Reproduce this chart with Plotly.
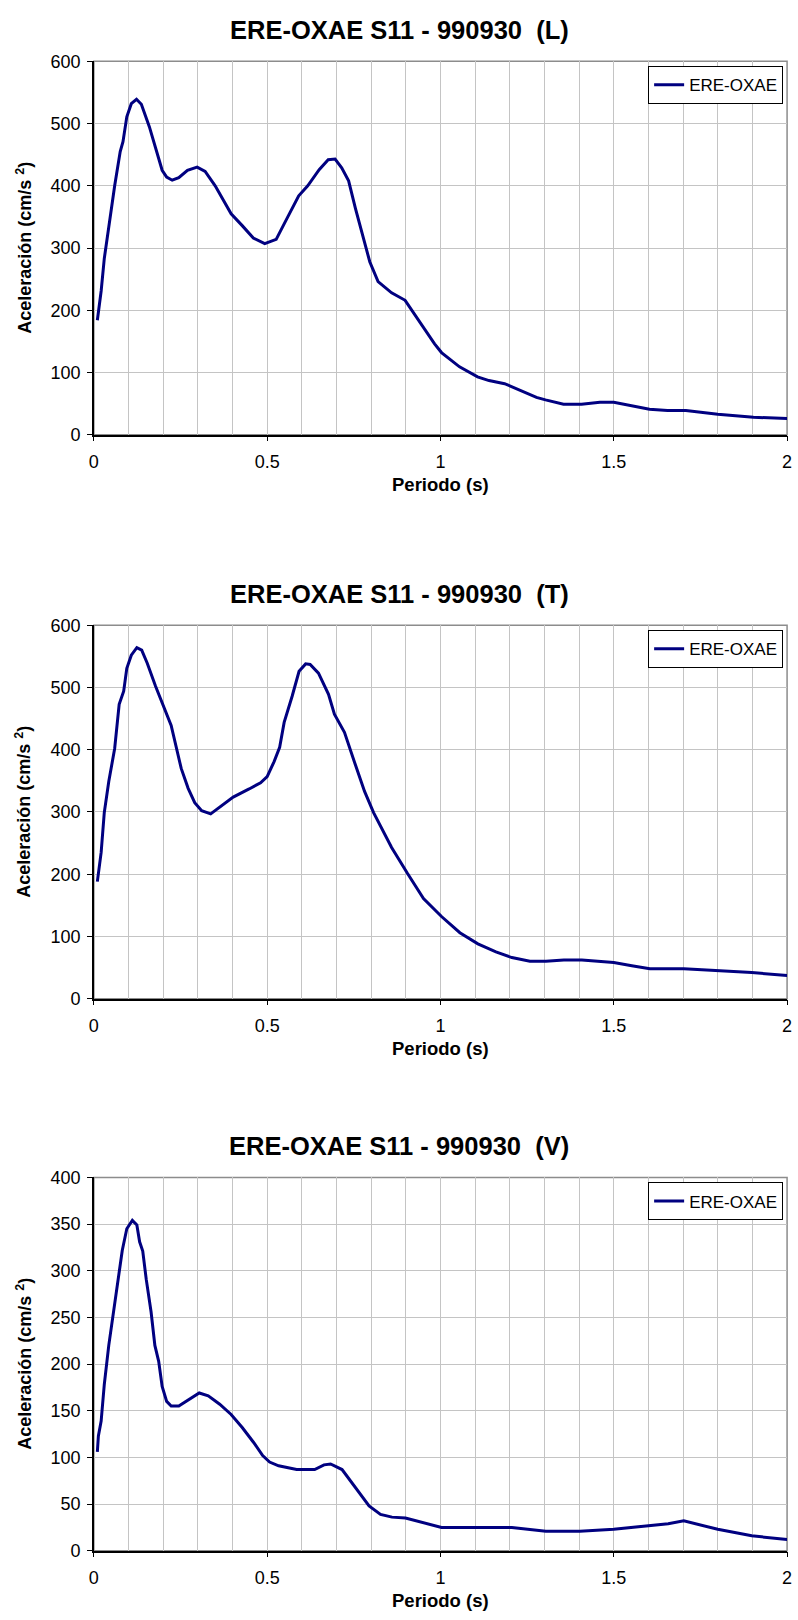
import plotly.graph_objects as go

# Espectros de respuesta - estacion ERE-OXAE, sismo 990930
# periodo (s) / aceleracion (cm/s2)

per_L = [0.01, 0.021, 0.03, 0.043, 0.06, 0.076, 0.084, 0.095, 0.108, 0.123, 0.137, 0.16, 0.18,
         0.197, 0.21, 0.226, 0.245, 0.27, 0.298, 0.321, 0.35, 0.396, 0.428, 0.46, 0.493, 0.526,
         0.552, 0.591, 0.617, 0.65, 0.676, 0.696, 0.715, 0.735, 0.755, 0.78, 0.796, 0.82, 0.859,
         0.898, 0.937, 0.983, 1.003, 1.055, 1.107, 1.14, 1.185, 1.224, 1.277, 1.303, 1.355,
         1.407, 1.46, 1.5, 1.538, 1.603, 1.655, 1.708, 1.8, 1.903, 2.0]
acc_L = [184, 231, 283, 336, 400, 455, 471, 511, 532, 539, 531, 495, 458,
         425, 414, 409, 413, 425, 430, 423, 400, 355, 336, 316, 307, 314,
         342, 384, 400, 426, 442, 443, 429, 408, 363, 310, 278, 246, 228,
         216, 183, 146, 132, 109, 93, 87, 82, 73, 60, 56, 49,
         49, 52, 52, 48, 41, 39, 39, 33, 28, 26]

per_T = [0.01, 0.021, 0.03, 0.043, 0.06, 0.073, 0.086, 0.095, 0.108, 0.124, 0.138, 0.154, 0.178,
         0.2, 0.223, 0.252, 0.272, 0.291, 0.311, 0.337, 0.363, 0.402, 0.448, 0.481, 0.5, 0.52,
         0.536, 0.549, 0.572, 0.592, 0.611, 0.624, 0.648, 0.677, 0.694, 0.723, 0.755, 0.781,
         0.807, 0.859, 0.905, 0.951, 1.003, 1.056, 1.108, 1.16, 1.206, 1.258, 1.304, 1.356,
         1.408, 1.5, 1.552, 1.604, 1.702, 1.8, 1.898, 2.0]
acc_T = [188, 235, 299, 349, 402, 473, 494, 531, 552, 564, 560, 539, 502,
         470, 439, 370, 338, 315, 302, 297, 308, 324, 337, 347, 357, 381,
         404, 444, 486, 526, 538, 537, 523, 489, 457, 428, 375, 333,
         299, 243, 201, 161, 132, 106, 88, 75, 66, 60, 60, 62,
         62, 58, 53, 48, 48, 45, 42, 37]

per_V = [0.01, 0.013, 0.021, 0.03, 0.043, 0.056, 0.065, 0.076, 0.082, 0.095, 0.111, 0.124, 0.132,
         0.141, 0.151, 0.165, 0.176, 0.187, 0.197, 0.21, 0.223, 0.245, 0.274, 0.304, 0.33,
         0.363, 0.396, 0.428, 0.461, 0.487, 0.507, 0.533, 0.585, 0.637, 0.664, 0.683, 0.716,
         0.755, 0.794, 0.827, 0.86, 0.899, 0.951, 1.003, 1.108, 1.206, 1.304, 1.402, 1.5,
         1.552, 1.604, 1.657, 1.702, 1.748, 1.8, 1.898, 2.0]
acc_V = [106, 123, 139, 178, 220, 256, 280, 310, 322, 345, 354, 349, 331,
         321, 291, 256, 220, 203, 176, 160, 155, 155, 162, 169, 166,
         157, 146, 132, 116, 102, 95, 91, 87, 87, 92, 93, 87,
         67, 48, 39, 36, 35, 30, 25, 25, 25, 21, 21, 23,
         25, 27.5, 29, 32, 28, 23, 16, 12]

titles = ["ERE-OXAE S11 - 990930  (L)", "ERE-OXAE S11 - 990930  (T)", "ERE-OXAE S11 - 990930  (V)"]
y_max = [600, 600, 400]
y_step = [100, 100, 50]
serie = "ERE-OXAE"

W, H = 798, 1620
FONT = "Liberation Sans, Arial, sans-serif"
# plot areas in pixels (left, right, top, bottom)
px_left, px_right = 90, 792
tops = [52, 623, 1182]
bottoms = [430, 1001, 1560]

fig = go.Figure()
annots = []
data = [(per_L, acc_L), (per_T, acc_T), (per_V, acc_V)]

for i in range(3):
    n = "" if i == 0 else str(i + 1)
    leg = "legend" + n
    fig.add_trace(go.Scatter(x=data[i][0], y=data[i][1], mode="lines", name=serie,
                             line=dict(color="#000080", width=3),
                             xaxis="x" + n, yaxis="y" + n, legend=leg))
    ydom = [1 - bottoms[i] / H, 1 - tops[i] / H]
    fig.update_layout({
        "xaxis" + n: dict(domain=[px_left / W, px_right / W], range=[0, 2], anchor="y" + n,
                          tickvals=[0, 0.5, 1, 1.5, 2], ticktext=["0", "0.5", "1", "1.5", "2"],
                          ticks="outside", ticklen=5, tickcolor="black", ticklabelstandoff=5,
                          showgrid=True, gridcolor="#c4c4c4", gridwidth=1,
                          minor=dict(dtick=0.1, showgrid=True, gridcolor="#c4c4c4", gridwidth=1),
                          showline=True, linecolor="black", linewidth=1.5, zeroline=False,
                          tickfont=dict(size=18, color="black", family=FONT)),
        "yaxis" + n: dict(domain=ydom, range=[0, y_max[i]], anchor="x" + n,
                          dtick=y_step[i], ticks="outside", ticklen=5, tickcolor="black",
                          ticklabelstandoff=3,
                          showgrid=True, gridcolor="#c4c4c4", gridwidth=1,
                          showline=True, linecolor="black", linewidth=1.5, zeroline=False,
                          tickfont=dict(size=18, color="black", family=FONT)),
        leg: dict(x=788 / W, xanchor="right", y=1 - (tops[i] + 5) / H, yanchor="top",
                  bordercolor="black", borderwidth=1, bgcolor="white",
                  font=dict(size=17, color="black", family=FONT)),
    })
    # gray frame top/right
    fig.add_shape(type="rect", xref="x" + n + " domain", yref="y" + n + " domain",
                  x0=0, x1=1, y0=0, y1=1, line=dict(color="#8c8c8c", width=1.5), layer="below")
    annots.append(dict(text="<b>" + titles[i] + "</b>", x=0.5, y=1 - (tops[i] - 32) / H,
                       xref="paper", yref="paper", showarrow=False,
                       xanchor="center", yanchor="middle",
                       font=dict(size=25.5, color="black", family=FONT)))
    annots.append(dict(text="<b>Periodo (s)</b>", x=(px_left + px_right) / 2 / W,
                       y=1 - (bottoms[i] + 50) / H, xref="paper", yref="paper", showarrow=False,
                       xanchor="center", yanchor="middle",
                       font=dict(size=18.5, color="black", family=FONT)))
    annots.append(dict(text="<b>Aceleración (cm/s <sup>2</sup>)</b>", x=19 / W,
                       y=1 - (tops[i] + bottoms[i]) / 2 / H, xref="paper", yref="paper",
                       showarrow=False, textangle=-90, xanchor="center", yanchor="middle",
                       font=dict(size=18, color="black", family=FONT)))

fig.update_layout(width=W, height=H, margin=dict(l=0, r=0, t=0, b=0),
                  paper_bgcolor="white", plot_bgcolor="white",
                  showlegend=True, annotations=annots,
                  font=dict(family=FONT, color="black"))

pin = ("document.documentElement.style.overflow='hidden';"
       "document.body.style.margin='0px';document.body.style.overflow='hidden';"
       "var d=document.getElementById('{plot_id}');"
       "d.style.position='absolute';d.style.left='0px';d.style.top='0px';")
fig.write_html("out.html", config={"displayModeBar": False}, post_script=pin)
